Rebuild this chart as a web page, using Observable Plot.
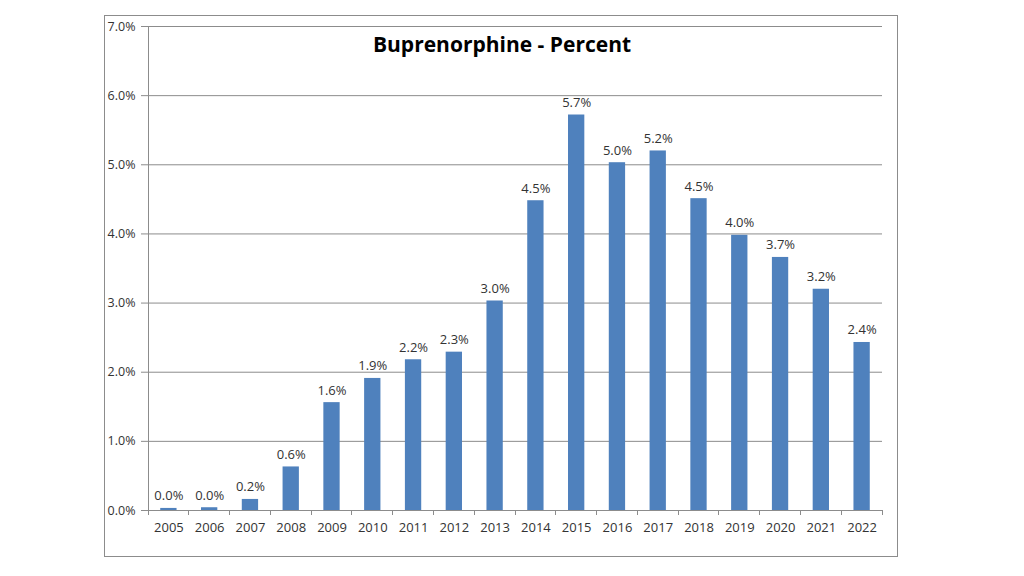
<!DOCTYPE html>
<html>
<head>
<meta charset="utf-8">
<script src="https://cdn.jsdelivr.net/npm/d3@7"></script>
<script src="https://cdn.jsdelivr.net/npm/@observablehq/plot@0.6"></script>
<style>
  html, body { margin: 0; padding: 0; background: #fff; }
  #wrap { position: relative; width: 1024px; height: 576px; overflow: hidden; }
  #frame { position: absolute; left: 104px; top: 15px; width: 794px; height: 542px; border: 1px solid #8c8c8c; box-sizing: border-box; }
  #title { position: absolute; left: 0; width: 1004px; top: 30px; text-align: center; font-family: "Open Sans", "Noto Sans", sans-serif; font-weight: bold; font-size: 21px; line-height: 28px; color: #000; letter-spacing: 0px; }
  #chart { position: absolute; left: 0; top: 0; }
</style>
</head>
<body>
<div id="wrap">
  <div id="frame"></div>
  <div id="chart"></div>
  <div id="title">Buprenorphine - Percent</div>
</div>
<script>
const years = ["2005","2006","2007","2008","2009","2010","2011","2012","2013","2014","2015","2016","2017","2018","2019","2020","2021","2022"];
const percents = [0.03, 0.04, 0.16, 0.63, 1.56, 1.91, 2.18, 2.29, 3.03, 4.48, 5.72, 5.03, 5.20, 4.51, 3.98, 3.66, 3.20, 2.43];
const yTicks = [0, 1, 2, 3, 4, 5, 6, 7];

const data = years.map((y, i) => ({year: y, value: percents[i]}));
const fmt = d => d.toFixed(1) + "%";
const gray = "#8c8c8c";
const M = {left: 148, right: 142, top: 26, bottom: 66};

// axis line + category separator ticks (Excel-style)
function axisDecor(index, scales, values, dims) {
  const y = scales.y;
  const step = (dims.width - dims.marginLeft - dims.marginRight) / years.length;
  const g = d3.create("svg:g").attr("stroke", gray).attr("stroke-width", 1).attr("shape-rendering", "crispEdges");
  const y0 = y(0), y7 = y(7);
  const left = dims.marginLeft;
  g.append("line").attr("x1", left).attr("x2", left).attr("y1", y7).attr("y2", y0 + 5);
  years.forEach((yr, i) => {
    const xr = left + step * (i + 1);
    g.append("line").attr("x1", xr).attr("x2", xr).attr("y1", y0).attr("y2", y0 + 5);
  });
  return g.node();
}

const chart = Plot.plot({
  width: 1024,
  height: 576,
  marginLeft: M.left,
  marginRight: M.right,
  marginTop: M.top,
  marginBottom: M.bottom,
  style: {fontFamily: "'Open Sans', 'Noto Sans', sans-serif", fontSize: "12px", color: "#333", background: "transparent"},
  x: {domain: years, paddingInner: 0.6, paddingOuter: 0.3, round: false, label: null},
  y: {domain: [0, 7], label: null},
  marks: [
    Plot.gridY(yTicks, {stroke: gray, strokeOpacity: 1, strokeWidth: 1}),
    Plot.axisY(yTicks, {tickFormat: fmt, tickSize: 7, tickPadding: 6, stroke: gray, fill: "#333", fontSize: 12.5, label: null}),
    Plot.axisX({tickSize: 0, tickPadding: 12, fill: "#333", fontSize: 13, label: null}),
    Plot.barY(data, {x: "year", y: "value", fill: "#4f81bd"}),
    Plot.ruleY([0], {stroke: gray}),
    axisDecor,
    Plot.text(data, {x: "year", y: "value", text: d => fmt(d.value), lineAnchor: "bottom", dy: -8, fill: "#333", fontSize: 13})
  ]
});
document.getElementById("chart").appendChild(chart);
</script>
</body>
</html>
